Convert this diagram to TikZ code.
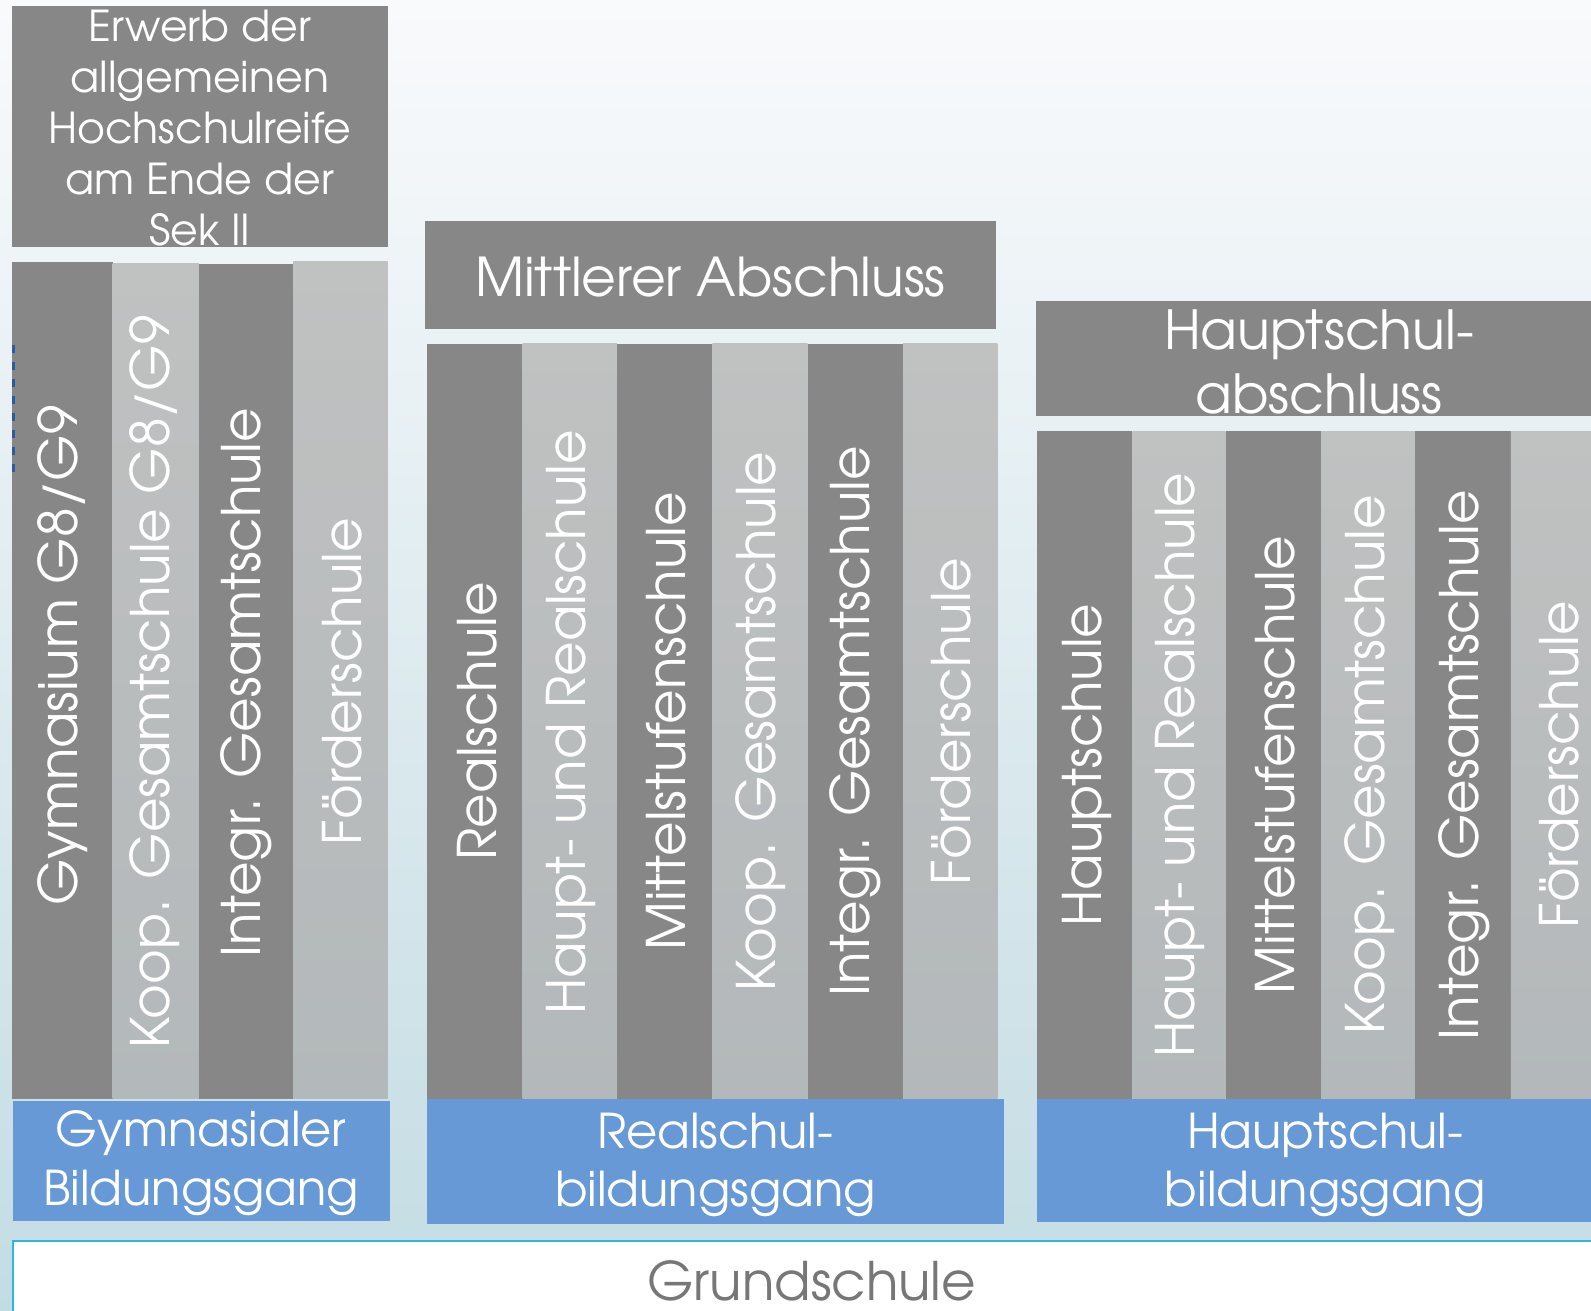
\documentclass[tikz,border=0pt]{standalone}
\usepackage{fontspec}
\setmainfont{TeX Gyre Adventor}
\definecolor{bgtop}{HTML}{F9FAFC}
\definecolor{bgbot}{HTML}{C3DCE3}
\definecolor{dkgray}{HTML}{878787}
\definecolor{ltA}{HTML}{C0C1C1}
\definecolor{ltB}{HTML}{B3B8BA}
\definecolor{bluebox}{HTML}{6699D5}
\definecolor{cyanline}{HTML}{30B4E0}
\definecolor{dashblue}{HTML}{2A5CA0}
\definecolor{grtext}{HTML}{777777}
\tikzset{
  dk/.style={fill=dkgray},
  lt/.style={top color=ltA, bottom color=ltB},
  bl/.style={fill=bluebox},
  coltxt/.style={rotate=90, text=white, inner sep=0pt, font=\fontsize{29.8}{34}\selectfont},
  headtxt/.style={text=white, inner sep=0pt, align=center},
}
\begin{document}
\begin{tikzpicture}[x=0.02cm,y=-0.02cm]
\useasboundingbox (0,0) rectangle (1568,1292);
\shade[top color=bgtop, bottom color=bgbot] (0,0) rectangle (1568,1292);

% ---------- Grundschule ----------
\path[fill=white, draw=cyanline, line width=1.4pt] (13,1223) rectangle (1590,1310);
\node[text=grtext, inner sep=0pt, font=\fontsize{29.8}{34}\selectfont] (gs) at (800,1262) {Grundschule};

% ---------- Section 1 ----------
\fill[dkgray] (12,6) rectangle (382,243);
\node[headtxt, font=\fontsize{23.9}{28.6}\selectfont] (t1) at (197,126)
  {Erwerb der\\allgemeinen\\Hochschulreife\\am Ende der\\Sek II};
\path[dk] (12,258) rectangle (111,1083);
\path[lt] (111,260) rectangle (196,1083);
\path[dk] (196,260) rectangle (289,1083);
\path[lt] (289,258) rectangle (382,1083);
\node[coltxt] (a1) at (62,646) {Gymnasium G8/G9};
\node[coltxt] (a2) at (152,672) {Koop. Gesamtschule G8/G9};
\node[coltxt] (a3) at (243,673) {Integr. Gesamtschule};
\node[coltxt] (a4) at (337,672) {Förderschule};
\path[bl] (13,1085) rectangle (384,1203);
\node[headtxt, font=\fontsize{26.9}{33}\selectfont] (b1) at (198,1146) {Gymnasialer\\Bildungsgang};
\draw[dashblue, line width=1.6pt, dash pattern=on 4.5pt off 5pt] (13.3,340) -- (13.3,473);

% ---------- Section 2 ----------
\fill[dkgray] (419,218) rectangle (982,324);
\node[headtxt, font=\fontsize{30}{35}\selectfont] (t2) at (700,273) {Mittlerer Abschluss};
\path[dk] (421,339) rectangle (515,1083);
\path[lt] (515,339) rectangle (608,1083);
\path[dk] (608,339) rectangle (702,1083);
\path[lt] (702,339) rectangle (796,1083);
\path[dk] (796,339) rectangle (890,1083);
\path[lt] (890,339) rectangle (983,1083);
\node[coltxt] (r1) at (470,711) {Realschule};
\node[coltxt] (r2) at (563,712) {Haupt- und Realschule};
\node[coltxt] (r3) at (657,711) {Mittelstufenschule};
\node[coltxt] (r4) at (750,711) {Koop. Gesamtschule};
\node[coltxt] (r5) at (843,711) {Integr. Gesamtschule};
\node[coltxt] (r6) at (937,711) {Förderschule};
\path[bl] (421,1083) rectangle (989,1206);
\node[headtxt, font=\fontsize{26.9}{33}\selectfont] (b2) at (705,1148) {Realschul-\\bildungsgang};

% ---------- Section 3 ----------
\fill[dkgray] (1021,297) rectangle (1568,410);
\node[headtxt, font=\fontsize{30.2}{35.7}\selectfont] (t3) at (1300,357) {Hauptschul-\\abschluss};
\path[dk] (1022,425) rectangle (1116,1083);
\path[lt] (1116,425) rectangle (1208,1083);
\path[dk] (1208,425) rectangle (1302,1083);
\path[lt] (1302,425) rectangle (1395,1083);
\path[dk] (1395,425) rectangle (1489,1083);
\path[lt] (1489,425) rectangle (1568,1083);
\node[coltxt] (h1) at (1071,754) {Hauptschule};
\node[coltxt] (h2) at (1163,754) {Haupt- und Realschule};
\node[coltxt] (h3) at (1257,754) {Mittelstufenschule};
\node[coltxt] (h4) at (1350,754) {Koop. Gesamtschule};
\node[coltxt] (h5) at (1443,754) {Integr. Gesamtschule};
\node[coltxt] (h6) at (1537,754) {Förderschule};
\path[bl] (1022,1083) rectangle (1568,1204);
\node[headtxt, font=\fontsize{26.9}{33}\selectfont] (b3) at (1306,1148) {Hauptschul-\\bildungsgang};
\end{tikzpicture}
\end{document}
